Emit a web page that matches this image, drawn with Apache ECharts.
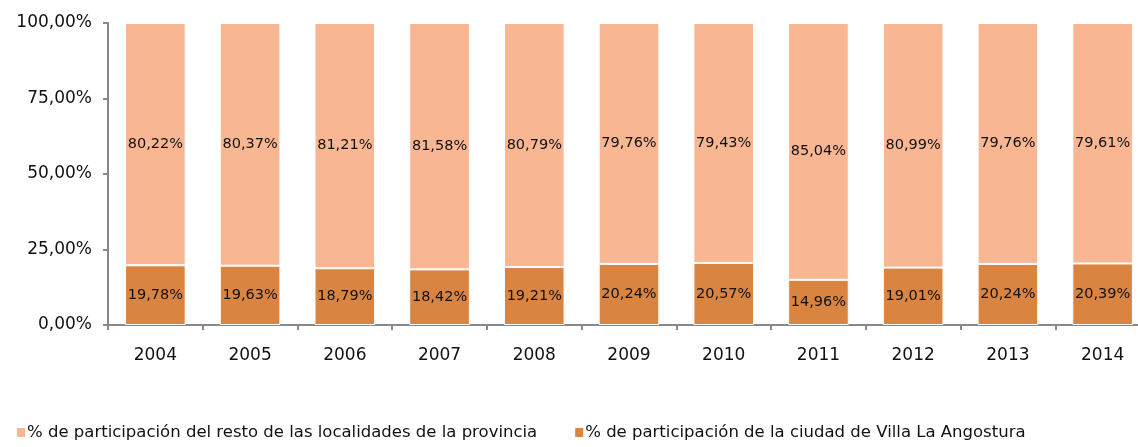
<!DOCTYPE html>
<html lang="es">
<head>
    <meta charset="UTF-8">
    <title>Participación Villa La Angostura</title>
    <script src="https://cdn.jsdelivr.net/npm/echarts@6/dist/echarts.min.js"></script>
    <style>
        html, body { margin: 0; padding: 0; background: #fff; }
        #main { width: 1138px; height: 447px; }
    </style>
</head>
<body>
<div id="main"></div>
<script type="text/javascript">
    var years = ['2004', '2005', '2006', '2007', '2008', '2009', '2010', '2011', '2012', '2013', '2014'];
    var ciudad = [19.78, 19.63, 18.79, 18.42, 19.21, 20.24, 20.57, 14.96, 19.01, 20.24, 20.39];
    var resto = [80.22, 80.37, 81.21, 81.58, 80.79, 79.76, 79.43, 85.04, 80.99, 79.76, 79.61];
    var yTicks = [0, 25, 50, 75, 100];

    var nameResto = '% de participación del resto de las localidades de la provincia';
    var nameCiudad = '% de participación de la ciudad de Villa La Angostura';

    function pct(v) {
        return v.toFixed(2).replace('.', ',') + '%';
    }

    var myChart = echarts.init(document.getElementById('main'));
    var option = {
        animation: false,
        textStyle: { fontFamily: 'DejaVu Sans' },
        legend: {
            data: [nameResto, nameCiudad],
            left: 10,
            bottom: 1,
            itemWidth: 10,
            itemHeight: 11,
            itemGap: 36,
            icon: 'rect',
            textStyle: { fontSize: 16.5, color: '#111', padding: [0, 0, 0, -4] }
        },
        grid: { left: 108, right: -12, top: 23, bottom: 122, outerBoundsMode: 'none', containLabel: false },
        xAxis: {
            type: 'category',
            data: years,
            axisLine: { lineStyle: { color: '#888', width: 2 } },
            axisTick: { show: true, length: 5, lineStyle: { color: '#888', width: 2 } },
            axisLabel: { fontSize: 17, color: '#111', margin: 22 }
        },
        yAxis: {
            type: 'value',
            min: yTicks[0],
            max: yTicks[yTicks.length - 1],
            interval: 25,
            splitLine: { show: false },
            axisLine: { show: true, lineStyle: { color: '#888', width: 2 } },
            axisTick: { show: true, length: 5, lineStyle: { color: '#888', width: 2 } },
            axisLabel: {
                fontSize: 17, color: '#111', margin: 16,
                formatter: function (v) { return pct(v); }
            }
        },
        series: [
            {
                name: nameCiudad,
                type: 'bar',
                stack: 'total',
                barCategoryGap: '36%',
                data: ciudad,
                itemStyle: { color: '#DA8441', borderColor: '#fff', borderWidth: 1 },
                label: {
                    show: true, position: 'inside', fontSize: 14.5, color: '#111',
                    formatter: function (p) { return pct(p.value); }
                }
            },
            {
                name: nameResto,
                type: 'bar',
                stack: 'total',
                barCategoryGap: '36%',
                data: resto,
                itemStyle: { color: '#F8B692', borderColor: '#fff', borderWidth: 1 },
                label: {
                    show: true, position: 'inside', fontSize: 14.5, color: '#111',
                    formatter: function (p) { return pct(p.value); }
                }
            }
        ]
    };
    myChart.setOption(option);
</script>
</body>
</html>
